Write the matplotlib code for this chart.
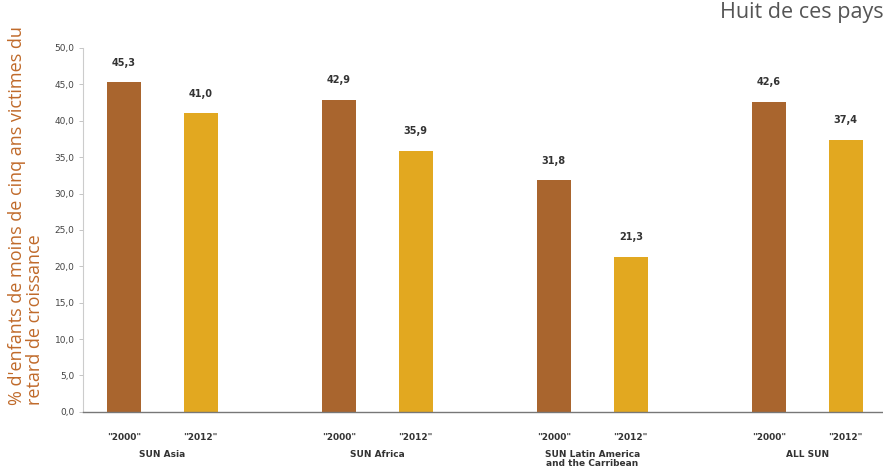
import matplotlib
matplotlib.use("Agg")
import matplotlib.pyplot as plt

groups = ["SUN Asia", "SUN Africa", "SUN Latin America\nand the Carribean", "ALL SUN"]
years = ['"2000"', '"2012"']
values_2000 = [45.3, 42.9, 31.8, 42.6]
values_2012 = [41.0, 35.9, 21.3, 37.4]

c2000 = "#A9652E"
c2012 = "#E2A820"
step = 215 / 77

fig = plt.figure(figsize=(8.83, 4.75), dpi=100)
ax = fig.add_axes([0.094, 0.133, 0.906, 0.766])

x0 = [i * step for i in range(len(groups))]
x1 = [x + 1.0 for x in x0]
b0 = ax.bar(x0, values_2000, width=0.44, color=c2000)
b1 = ax.bar(x1, values_2012, width=0.44, color=c2012)
for bars in (b0, b1):
    for b in bars:
        ax.text(b.get_x() + b.get_width() / 2, b.get_height() + 2.0,
                f"{b.get_height():.1f}".replace(".", ","),
                ha="center", va="bottom", fontsize=7, fontweight="bold", color="#333333")

ax.set_xlim(-0.53, 9.86)
ax.set_ylim(0, 50)
ax.set_yticks(range(0, 51, 5))
ax.set_yticklabels([f"{v:.1f}".replace(".", ",") for v in range(0, 51, 5)],
                   fontsize=6.5, color="#444444")
ax.tick_params(axis="y", length=3, width=0.6, color="#bbbbbb", pad=3)

ticks = []
labels = []
for a, b in zip(x0, x1):
    ticks += [a, b]
    labels += years
ax.set_xticks(ticks)
ax.set_xticklabels(labels, fontsize=6.5, color="#333333", fontweight="bold")
ax.tick_params(axis="x", length=0, pad=15)

for a, b, g in zip(x0, x1, groups):
    ax.text((a + b) / 2, -0.105, g, transform=ax.get_xaxis_transform(),
            ha="center", va="top", fontsize=6.5, fontweight="bold", color="#333333",
            linespacing=1.05)

for s in ["top", "right"]:
    ax.spines[s].set_visible(False)
ax.spines["left"].set_color("#cccccc")
ax.spines["left"].set_linewidth(0.8)
ax.spines["bottom"].set_color("#777777")
ax.spines["bottom"].set_linewidth(1.0)

fig.text(0.03, 1 - 405 / 475, "% d'enfants de moins de cinq ans victimes du\nretard de croissance",
         rotation=90, ha="center", va="bottom", multialignment="left",
         fontsize=13, color="#C06A2A", family="Open Sans", linespacing=1.0)
fig.text(0.815, 0.995, "Huit de ces pays", ha="left", va="top", fontsize=15.5,
         color="#555555", family="Open Sans")

fig.savefig("out.png", dpi=100)
